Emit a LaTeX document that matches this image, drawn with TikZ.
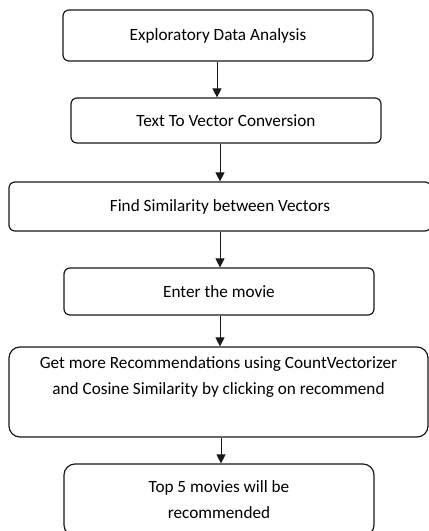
\documentclass[tikz,border=0pt]{standalone}
\usepackage{fontspec}
\setmainfont{Carlito}
\usetikzlibrary{arrows.meta}
\tikzset{
  stepbox/.style={draw=black!90, line width=1.2pt, rounded corners=#1, inner sep=0pt, align=center,
    font=\fontsize{17.2}{26}\selectfont},
  stepbox/.default=6pt,
  flow/.style={draw=black!90, line width=1pt, -{Triangle[length=9pt,width=9pt]}}
}
\begin{document}
\begin{tikzpicture}[x=1pt,y=-1pt]
  \clip (0,0) rectangle (429,531);
  \fill[white] (0,0) rectangle (429,531);
  % process steps (y grows downwards)
  \node[stepbox, minimum width=310, minimum height=51] (b1) at (218,35.5) {Exploratory Data Analysis};
  \node[stepbox, minimum width=310, minimum height=45] (b2) at (226,120.5) {Text To Vector Conversion};
  \node[stepbox, minimum width=422, minimum height=49] (b3) at (220,206.5) {Find Similarity between Vectors};
  \node[stepbox, minimum width=310, minimum height=47] (b4) at (219,291.5) {Enter the movie};
  \node[stepbox=11pt, minimum width=419, minimum height=90] (b5) at (218.5,392)
    {Get more Recommendations using CountVectorizer\\and Cosine Similarity by clicking on recommend\\ \strut};
  \node[stepbox=11pt, minimum width=310, minimum height=72] (b6) at (219,500)
    {Top 5 movies will be\\recommended};
  % connectors
  \draw[flow] ([xshift=-1pt]b1.south) -- ([xshift=-1pt]b1.south |- b2.north);
  \draw[flow] ([xshift=-6pt]b2.south) -- ([xshift=-6pt]b2.south |- b3.north);
  \draw[flow] (b3.south) -- (b3.south |- b4.north);
  \draw[flow] ([xshift=1pt]b4.south) -- ([xshift=1pt]b4.south |- b5.north);
  \draw[flow] ([xshift=2.5pt]b5.south) -- ([xshift=2.5pt]b5.south |- b6.north);
\end{tikzpicture}
\end{document}
